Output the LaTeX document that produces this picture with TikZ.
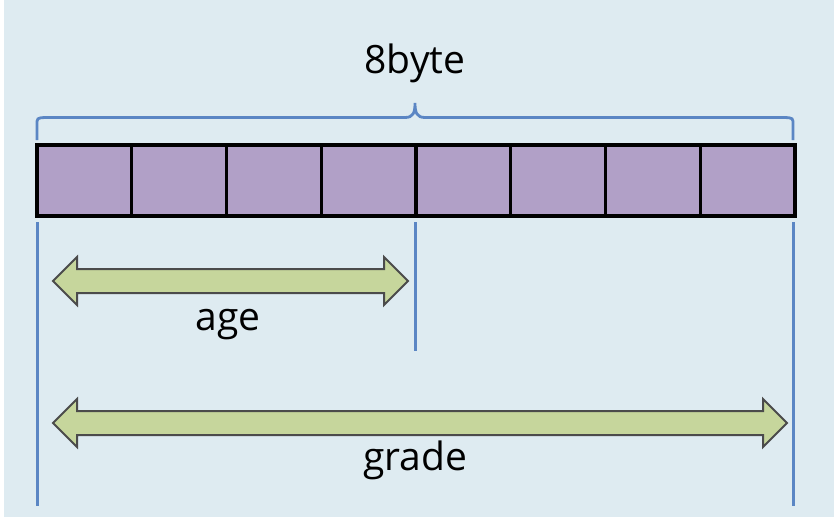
\documentclass[tikz,border=0pt]{standalone}
\usepackage{fontspec}
\setmainfont{Open Sans}
\usetikzlibrary{shapes.arrows}
\definecolor{bgblue}{HTML}{DEEBF1}
\definecolor{bytefill}{HTML}{B1A0C7}
\definecolor{arrfill}{HTML}{C6D69C}
\definecolor{arredge}{HTML}{4B4B4B}
\definecolor{guide}{HTML}{5B86C4}
\tikzset{
  every node/.style={font=\fontsize{39}{45}\selectfont},
  cell/.style={draw=black, fill=bytefill, line width=3.2pt, minimum width=94.75pt, minimum height=71pt, inner sep=0pt},
  span/.style={double arrow, draw=arredge, fill=arrfill, line width=2pt, inner xsep=0pt, inner ysep=11pt,
    double arrow head extend=12pt, double arrow head indent=0pt},
  guideline/.style={draw=guide, line width=3pt},
  lbl/.style={inner sep=0pt, anchor=base},
}

\begin{document}
\begin{tikzpicture}[x=1pt, y=-1pt]
\useasboundingbox (0,0) rectangle (834,524);
\fill[bgblue] (4,0) rectangle (834,517);

% the eight bytes
\foreach \i in {1,...,8}
  \node[cell] (cell\i) at ({37+94.75*(\i-0.5)},180.5) {};

% brace over the whole block
\draw[guideline, line width=2.8pt] (37,140) -- (37,125) .. controls (37,118) .. (45,117.5) -- (405,117.5)
  .. controls (413,117.5) and (415,113) .. (415,103) .. controls (415,113) and (417,117.5) .. (425,117.5)
  -- (785,117.5) .. controls (793,118) .. (793,125) -- (793,140);
\node[lbl] (size) at (415,74) {8byte};

% guide lines
\coordinate (lefttop) at (37,222);
\coordinate (leftbot) at (37,506);
\coordinate (midtop) at (415,222);
\coordinate (midbot) at (415,351);
\coordinate (righttop) at (793,222);
\coordinate (rightbot) at (793,506);
\draw[guideline] (lefttop) -- (leftbot);
\draw[guideline] (midtop) -- (midbot);
\draw[guideline] (righttop) -- (rightbot);

% field spans
\node[span, minimum height=355pt] (age) at (230.5,281) {};
\node[lbl] (agelbl) at (228,330) {age};
\node[span, minimum height=734pt] (grade) at (420,423) {};
\node[lbl] (gradelbl) at (415,470) {grade};

\end{tikzpicture}
\end{document}
